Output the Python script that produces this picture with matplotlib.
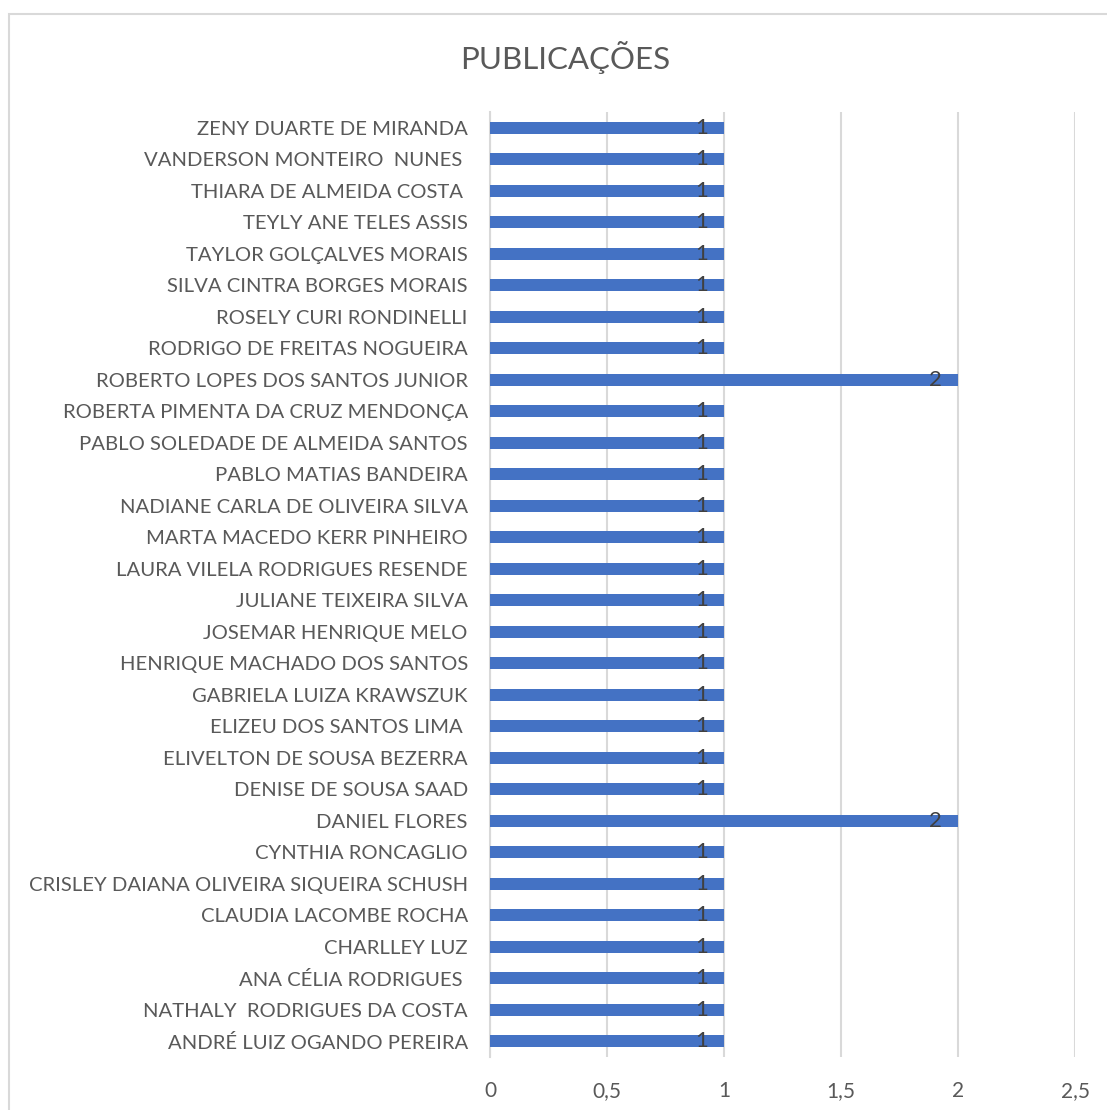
import matplotlib.pyplot as plt
from matplotlib.patches import Rectangle
from matplotlib.ticker import FuncFormatter

# Dados (de baixo para cima)
nomes = [
    "ANDRÉ LUIZ OGANDO PEREIRA",
    "NATHALY  RODRIGUES DA COSTA",
    "ANA CÉLIA RODRIGUES ",
    "CHARLLEY LUZ",
    "CLAUDIA LACOMBE ROCHA",
    "CRISLEY DAIANA OLIVEIRA SIQUEIRA SCHUSH",
    "CYNTHIA RONCAGLIO",
    "DANIEL FLORES",
    "DENISE DE SOUSA SAAD",
    "ELIVELTON DE SOUSA BEZERRA",
    "ELIZEU DOS SANTOS LIMA ",
    "GABRIELA LUIZA KRAWSZUK",
    "HENRIQUE MACHADO DOS SANTOS",
    "JOSEMAR HENRIQUE MELO",
    "JULIANE TEIXEIRA SILVA",
    "LAURA VILELA RODRIGUES RESENDE",
    "MARTA MACEDO KERR PINHEIRO",
    "NADIANE CARLA DE OLIVEIRA SILVA",
    "PABLO MATIAS BANDEIRA",
    "PABLO SOLEDADE DE ALMEIDA SANTOS",
    "ROBERTA PIMENTA DA CRUZ MENDONÇA",
    "ROBERTO LOPES DOS SANTOS JUNIOR",
    "RODRIGO DE FREITAS NOGUEIRA",
    "ROSELY CURI RONDINELLI",
    "SILVA CINTRA BORGES MORAIS",
    "TAYLOR GOLÇALVES MORAIS",
    "TEYLY ANE TELES ASSIS",
    "THIARA DE ALMEIDA COSTA ",
    "VANDERSON MONTEIRO  NUNES ",
    "ZENY DUARTE DE MIRANDA",
]
publicacoes = [1, 1, 1, 1, 1, 1, 1, 2, 1, 1, 1, 1, 1, 1, 1,
               1, 1, 1, 1, 1, 1, 2, 1, 1, 1, 1, 1, 1, 1, 1]
xticks = [0, 0.5, 1, 1.5, 2, 2.5]

plt.rcParams['font.family'] = ['Lato', 'DejaVu Sans']

fig = plt.figure(figsize=(11.07, 11.10), dpi=100)
ax = fig.add_axes([490 / 1107, 1 - 1057 / 1110, (1075 - 490) / 1107, (1057 - 112) / 1110])

# moldura do gráfico
fig.patches.append(Rectangle((9 / 1107, -0.1), 1.2, 1 - 14 / 1110 + 0.1,
                             transform=fig.transFigure, fill=False,
                             edgecolor='#d9d9d9', linewidth=1.5))

y = list(range(len(nomes)))
bars = ax.barh(y, publicacoes, height=0.37, color='#4472c4', zorder=3)
ax.bar_label(bars, labels=[str(v) for v in publicacoes], padding=-21,
             color='#404040', fontsize=16, zorder=4)

ax.set_xlim(0, 2.5)
ax.set_ylim(-0.5, len(nomes) - 0.5)
ax.set_yticks(y)
ax.set_yticklabels(nomes, fontsize=14.6, color='#595959')
ax.set_xticks(xticks)
ax.xaxis.set_major_formatter(FuncFormatter(lambda v, p: f"{v:g}".replace('.', ',')))
ax.tick_params(axis='x', labelsize=15, labelcolor='#595959', length=0, pad=17)
ax.tick_params(axis='y', length=0, pad=16)

ax.grid(axis='x', color='#d9d9d9', linewidth=1.5, zorder=0)
for s in ['top', 'right', 'bottom']:
    ax.spines[s].set_visible(False)
ax.spines['left'].set_color('#d9d9d9')
ax.spines['left'].set_linewidth(1.5)

fig.text(565 / 1107, 1 - 58 / 1110, "PUBLICAÇÕES", ha='center', va='center',
         fontsize=22.5, color='#595959')

fig.savefig('out.png', dpi=100)
